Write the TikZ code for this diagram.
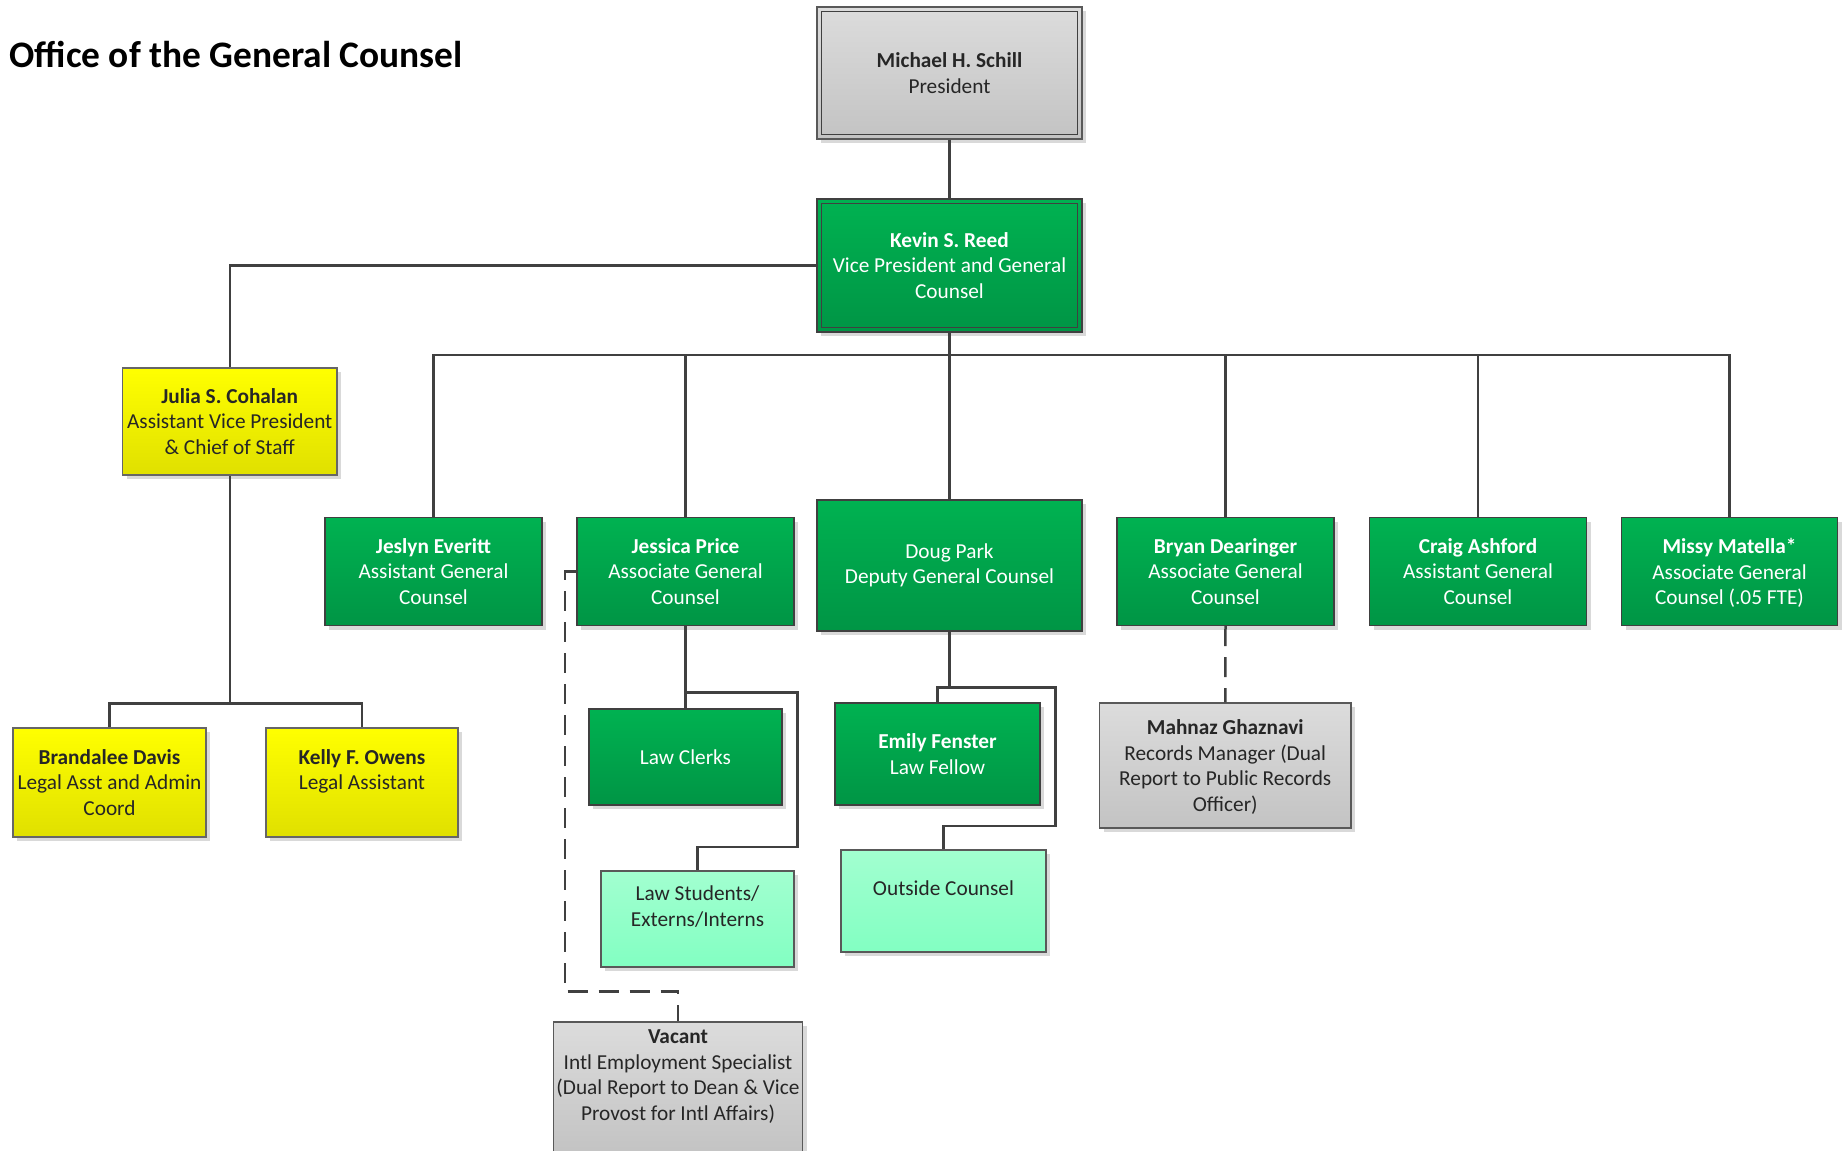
\documentclass[tikz,border=0pt]{standalone}
\usepackage{fontspec}
\setmainfont{Carlito}
\usetikzlibrary{shadows}
\definecolor{gtop}{HTML}{00B251}
\definecolor{gbot}{HTML}{009545}
\definecolor{ytop}{HTML}{FFFF00}
\definecolor{ybot}{HTML}{E0E000}
\definecolor{stop}{HTML}{DCDCDC}
\definecolor{sbot}{HTML}{C3C3C3}
\definecolor{ltop}{HTML}{A2FFD0}
\definecolor{lbot}{HTML}{82FFC2}
\definecolor{linec}{HTML}{404040}
\definecolor{txt}{HTML}{262626}
\begin{document}
\begin{tikzpicture}[x=0.5pt,y=-0.5pt,
  box/.style={draw=linec, line width=0.7pt, inner sep=0pt, align=center,
    font=\fontsize{10.65}{12.75}\selectfont,
    drop shadow={shadow xshift=2pt, shadow yshift=-2.2pt, fill=black!15, opacity=1}},
  gbox/.style={box, top color=gtop, bottom color=gbot, text=white},
  ybox/.style={box, top color=ytop, bottom color=ybot, text=txt, draw=black!60},
  sbox/.style={box, top color=stop, bottom color=sbot, text=txt, draw=black!65},
  lbox/.style={box, top color=ltop, bottom color=lbot, text=txt, draw=black!65},
  sz/.style 2 args={minimum width=#1, minimum height=#2},
  conn/.style={draw=linec, line width=1.25pt},
  dconn/.style={conn, dash pattern=on 10pt off 5.5pt},
  inner/.style={draw=linec, line width=0.7pt}
]
\useasboundingbox (0,0) rectangle (1844,1151);
\fill[white] (0,0) rectangle (1844,1151);

\node[anchor=base west, inner sep=0pt, font=\bfseries\fontsize{18.7}{22}\selectfont] (title) at (9,68) {Office of the General Counsel};

% top
\node[sbox, sz={132.5pt}{66pt}] (P) at (949.5,73) {\textbf{Michael H. Schill}\\President};
\draw[inner] ([shift={(5,5)}]P.north west) rectangle ([shift={(-5,-5)}]P.south east);
\node[gbox, sz={132.5pt}{66.5pt}] (K) at (949.5,265.5) {\textbf{Kevin S. Reed}\\Vice President and General\\Counsel};
\draw[inner] ([shift={(5,5)}]K.north west) rectangle ([shift={(-5,-5)}]K.south east);

% chief of staff branch
\node[ybox, sz={107.25pt}{53.5pt}] (J) at (229.75,421.5) {\textbf{Julia S. Cohalan}\\Assistant Vice President\\\& Chief of Staff};
\node[ybox, sz={96.5pt}{54.5pt}] (Bra) at (109.5,782.5) {\textbf{Brandalee Davis}\\Legal Asst and Admin\\Coord};
\node[ybox, sz={96pt}{54.5pt}] (Kel) at (362,782.5) {\textbf{Kelly F. Owens}\\Legal Assistant\\\mbox{}};

% second row
\node[gbox, sz={108.5pt}{54pt}] (Jsl) at (433.5,571.5) {\textbf{Jeslyn Everitt}\\Assistant General\\Counsel};
\node[gbox, sz={108.5pt}{54pt}] (Jsp) at (685.5,571.5) {\textbf{Jessica Price}\\Associate General\\Counsel};
\node[gbox, sz={132.5pt}{65.5pt}] (Dou) at (949.5,565.5) {Doug Park\\Deputy General Counsel};
\node[gbox, sz={108.5pt}{54pt}] (Bry) at (1225.5,571.5) {\textbf{Bryan Dearinger}\\Associate General\\Counsel};
\node[gbox, sz={108.5pt}{54pt}] (Cra) at (1478,571.5) {\textbf{Craig Ashford}\\Assistant General\\Counsel};
\node[gbox, sz={108pt}{54pt}] (Mis) at (1729.5,571.5) {\textbf{Missy Matella*}\\Associate General\\\smash{Counsel (.05 FTE)}};

% third level
\node[gbox, sz={96.5pt}{48pt}] (LC) at (685.5,757) {Law Clerks};
\node[lbox, sz={96.5pt}{48pt}] (LS) at (697.5,919) {Law Students/\\Externs/Interns\\\mbox{}};
\node[gbox, sz={102.5pt}{51pt}] (Em) at (937.5,754) {\textbf{Emily Fenster}\\Law Fellow};
\node[lbox, sz={102.5pt}{51pt}] (OC) at (943.5,901) {Outside Counsel\\\mbox{}};
\node[sbox, sz={125.75pt}{62.5pt}] (Mah) at (1225.25,765.5) {\textbf{Mahnaz Ghaznavi}\\Records Manager (Dual\\Report to Public Records\\\smash{Officer)}};
\node[sbox, sz={124.75pt}{66pt}] (Vac) at (678,1088) {\textbf{Vacant}\\Intl Employment Specialist\\(Dual Report to Dean \& Vice\\Provost for Intl Affairs)\\\mbox{}};

% connectors
\coordinate (bus) at (949.5,355);
\coordinate (jb) at (229.75,703.5);
\coordinate (jsj) at (685.5,692.7);
\coordinate (jsr) at (797.3,847);
\coordinate (dj) at (949.5,687.3);
\coordinate (dr) at (1055.3,826);
\coordinate (dl) at (565,991.7);

\draw[conn] (P.south) -- (K.north);
\draw[conn] (K.west) -| (J.north);
\draw[conn] (K.south) -- (bus);
\draw[conn] (Jsl.north) |- (bus) -| (Mis.north);
\foreach \n in {Jsp,Dou,Bry,Cra} \draw[conn] (\n.north) -- (\n.north |- bus);

\draw[conn] (J.south) -- (jb);
\draw[conn] (Bra.north) |- (jb) -| (Kel.north);

\draw[conn] (Jsp.south) -- (LC.north);
\draw[conn] (jsj) -| (jsr) -| (LS.north);

\draw[conn] (Dou.south) -- (dj) -| (Em.north);
\draw[conn] (dj) -| (dr) -| (OC.north);

\draw[dconn] (Jsp.west) -| (dl) -| (Vac.north);
\draw[dconn] (Bry.south) -- (Mah.north);
\end{tikzpicture}
\end{document}
